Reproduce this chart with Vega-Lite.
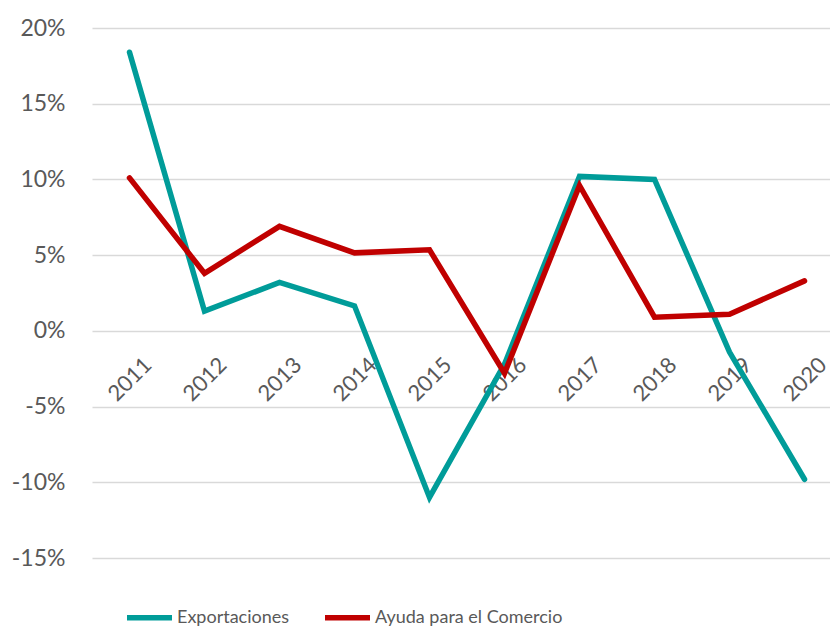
{
  "$schema": "https://vega.github.io/schema/vega-lite/v6.json",
  "width": 750,
  "height": 530,
  "autosize": {"type": "none"},
  "padding": {"left": 92, "top": 28, "right": 0, "bottom": 70},
  "background": "white",
  "config": {
    "view": {"stroke": null},
    "font": "Lato"
  },
  "data": {
    "values": [
      {"year": "2011", "serie": "Exportaciones", "v": 0.184},
      {"year": "2012", "serie": "Exportaciones", "v": 0.013},
      {"year": "2013", "serie": "Exportaciones", "v": 0.032},
      {"year": "2014", "serie": "Exportaciones", "v": 0.0165},
      {"year": "2015", "serie": "Exportaciones", "v": -0.110},
      {"year": "2016", "serie": "Exportaciones", "v": -0.022},
      {"year": "2017", "serie": "Exportaciones", "v": 0.102},
      {"year": "2018", "serie": "Exportaciones", "v": 0.100},
      {"year": "2019", "serie": "Exportaciones", "v": -0.014},
      {"year": "2020", "serie": "Exportaciones", "v": -0.098},
      {"year": "2011", "serie": "Ayuda para el Comercio", "v": 0.101},
      {"year": "2012", "serie": "Ayuda para el Comercio", "v": 0.038},
      {"year": "2013", "serie": "Ayuda para el Comercio", "v": 0.069},
      {"year": "2014", "serie": "Ayuda para el Comercio", "v": 0.0515},
      {"year": "2015", "serie": "Ayuda para el Comercio", "v": 0.0535},
      {"year": "2016", "serie": "Ayuda para el Comercio", "v": -0.028},
      {"year": "2017", "serie": "Ayuda para el Comercio", "v": 0.096},
      {"year": "2018", "serie": "Ayuda para el Comercio", "v": 0.009},
      {"year": "2019", "serie": "Ayuda para el Comercio", "v": 0.011},
      {"year": "2020", "serie": "Ayuda para el Comercio", "v": 0.033}
    ]
  },
  "mark": {"type": "line", "strokeWidth": 5.5, "strokeCap": "round", "strokeJoin": "miter"},
  "encoding": {
    "x": {
      "field": "year",
      "type": "ordinal",
      "scale": {"type": "point", "padding": 0.5},
      "axis": {
        "title": null,
        "domain": false,
        "ticks": false,
        "grid": false,
        "offset": -227,
        "labelAngle": -45,
        "labelAlign": "center",
        "labelBaseline": "middle",
        "labelPadding": 48,
        "labelFontSize": 22,
        "labelColor": "#595959",
        "labelFont": "Lato"
      }
    },
    "y": {
      "field": "v",
      "type": "quantitative",
      "scale": {"domain": [-0.15, 0.2], "nice": false, "zero": false},
      "axis": {
        "title": null,
        "format": ".0%",
        "labelExpr": "replace(datum.label, '\u2212', '-')",
        "values": [-0.15, -0.1, -0.05, 0, 0.05, 0.1, 0.15, 0.2],
        "domain": false,
        "ticks": false,
        "grid": true,
        "gridColor": "#d9d9d9",
        "gridWidth": 1.5,
        "labelPadding": 27,
        "labelFontSize": 23,
        "labelColor": "#595959",
        "labelFont": "Lato"
      }
    },
    "color": {
      "field": "serie",
      "type": "nominal",
      "scale": {
        "domain": ["Exportaciones", "Ayuda para el Comercio"],
        "range": ["#009c99", "#c00000"]
      },
      "legend": {
        "title": null,
        "orient": "none",
        "legendX": 32,
        "legendY": 564,
        "direction": "horizontal",
        "symbolType": "stroke",
        "symbolSize": 2025,
        "symbolStrokeWidth": 5.5,
        "labelFontSize": 18,
        "labelColor": "#595959",
        "labelFont": "Lato",
        "columnPadding": 24,
        "labelOffset": 2,
        "labelLimit": 400
      }
    }
  }
}
